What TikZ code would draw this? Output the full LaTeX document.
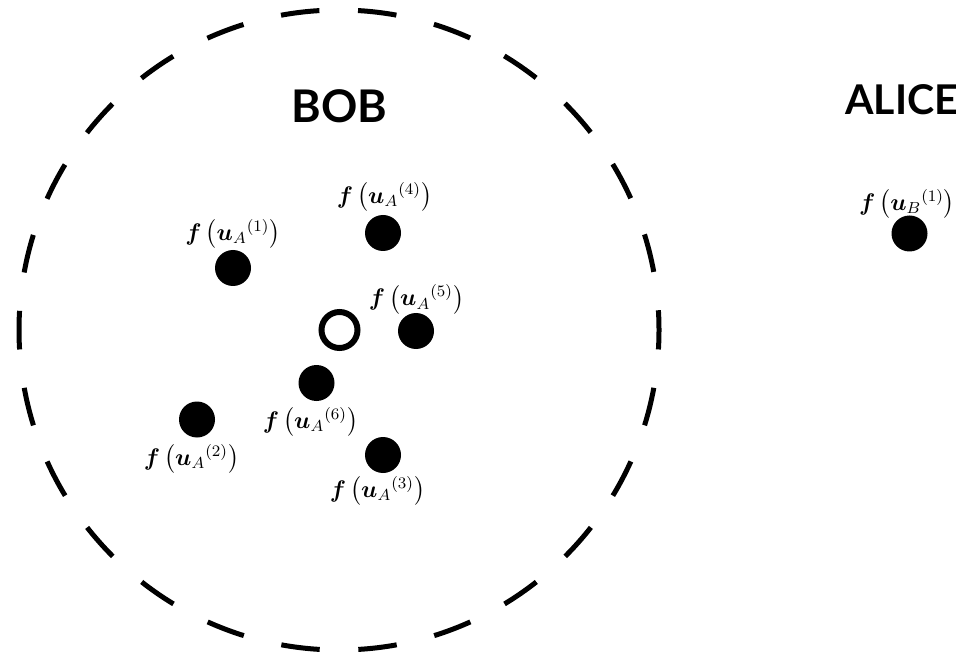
\documentclass[tikz,border=0pt]{standalone}
\usepackage{amsmath,bm}
\usepackage{fontspec}
\newfontfamily\latofont{Lato}
\newcommand{\fu}[2]{$\bm{f}\left({\bm{u}_{#1}}^{(#2)}\right)$}
\begin{document}
\begin{tikzpicture}[x=0.5pt,y=-0.5pt,
  dot/.style={circle,fill=black,inner sep=0pt,minimum size=18pt},
  ring/.style={circle,draw=black,line width=3pt,inner sep=0pt,minimum size=18pt},
  lbl/.style={inner sep=0pt,font=\fontsize{11.5}{14}\selectfont},
  ttl/.style={font=\latofont\bfseries\fontsize{20.5}{24}\selectfont,inner sep=0pt,anchor=base}]
\useasboundingbox (0,0) rectangle (973,657);
\draw[line width=2.5pt,dash pattern=on 19.33pt off 19.33pt,dash phase=9.6pt] (339,330) circle[radius=320];
\node[ttl,font=\latofont\bfseries\fontsize{22.5}{26}\selectfont] (bob) at (339.5,123) {BOB};
\node[ttl] (alice) at (901.5,115) {ALICE};
\node[dot] (a1) at (233,268) {};
\node[dot] (a4) at (383,233) {};
\node[dot] (a5) at (416,331) {};
\node[ring] (c) at (339.5,330) {};
\node[dot] (a6) at (316.5,383) {};
\node[dot] (a2) at (197,419.5) {};
\node[dot] (a3) at (383,455) {};
\node[dot] (b1) at (909.5,233.5) {};
\node[lbl] (l1) at (233,234) {\fu{A}{1}};
\node[lbl] (l4) at (384.5,197) {\fu{A}{4}};
\node[lbl] (l5) at (416.5,299.5) {\fu{A}{5}};
\node[lbl] (l6) at (310.5,422) {\fu{A}{6}};
\node[lbl] (l2) at (191.5,459) {\fu{A}{2}};
\node[lbl] (l3) at (377.5,491) {\fu{A}{3}};
\node[lbl] (lb) at (907,204) {\fu{B}{1}};
\end{tikzpicture}
\end{document}
